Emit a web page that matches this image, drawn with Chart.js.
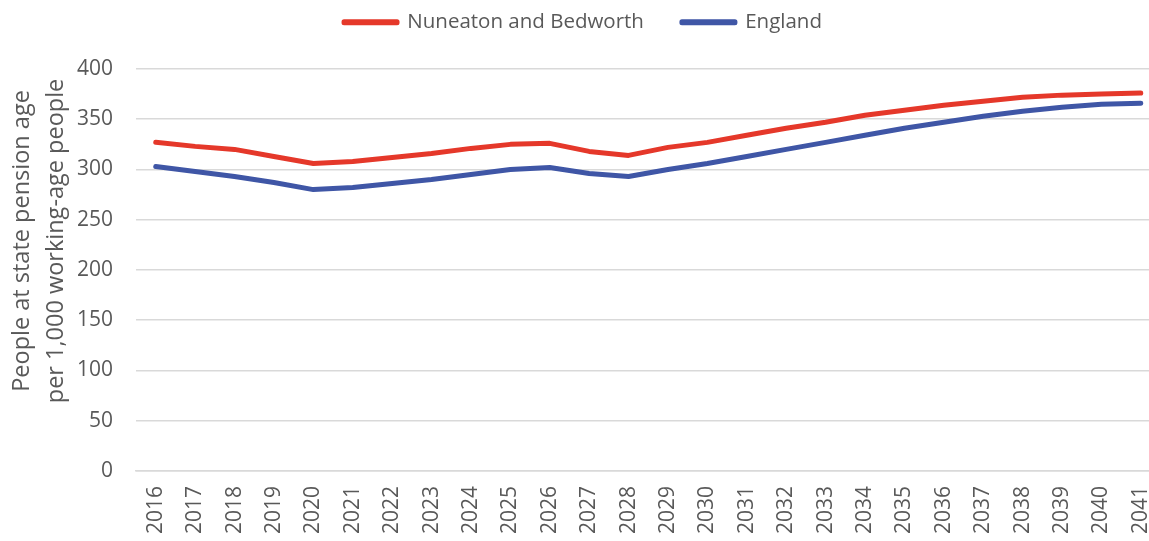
<!DOCTYPE html>
<html>
<head>
<meta charset="utf-8">
<script src="https://cdn.jsdelivr.net/npm/chart.js@4.4.1/dist/chart.umd.min.js"></script>
<style>
  html, body { margin: 0; padding: 0; background: #fff; overflow: hidden; }
  #wrap { width: 1149px; height: 541px; overflow: hidden; }
</style>
</head>
<body>
<div id="wrap"><canvas id="ratioChart" width="1181" height="549"></canvas></div>
<script>
/* ---------- data ---------- */
const years = ["2016","2017","2018","2019","2020","2021","2022","2023","2024","2025","2026","2027","2028",
               "2029","2030","2031","2032","2033","2034","2035","2036","2037","2038","2039","2040","2041"];
const nuneaton = [327, 323, 320, 313, 306, 308, 312, 316, 321, 325, 326, 318, 314,
                  322, 327, 334, 341, 347, 354, 359, 364, 368, 372, 374, 375, 376];
const england  = [303, 298, 293, 287, 280, 282, 286, 290, 295, 300, 302, 296, 293,
                  300, 306, 313, 320, 327, 334, 341, 347, 353, 358, 362, 365, 366];
const yTitle = ["People at state pension age", "per 1,000 working-age people"];

const FONT = "'Open Sans', 'Liberation Sans', sans-serif";
const TEXT = "#595959";
const GRID = "#d9d9d9";

/* legend sits in a tall band; keep plot top clear and pull the row up */
const legendBand = {
  id: "legendBand",
  beforeInit(chart) {
    const fit = chart.legend.fit;
    chart.legend.fit = function () {
      fit.call(this);
      this.height = 69;
    };
  },
  beforeDraw(chart) {
    const lg = chart.legend;
    const dx = 583 - (lg.left + lg.right) / 2;
    lg.left += dx;
    lg.right += dx;
    lg.top -= 26;
  }
};

/* y axis title, two rotated lines left of the ticks */
const axisTitle = {
  id: "axisTitle",
  afterDraw(chart) {
    const { ctx, chartArea } = chart;
    const cy = (chartArea.top + chartArea.bottom) / 2 - 29;
    ctx.save();
    ctx.font = "23.5px " + FONT;
    ctx.fillStyle = TEXT;
    ctx.textAlign = "center";
    ctx.textBaseline = "middle";
    [22, 56].forEach((x, i) => {
      ctx.save();
      ctx.translate(x, cy);
      ctx.rotate(-Math.PI / 2);
      ctx.fillText(yTitle[i], 0, 0);
      ctx.restore();
    });
    ctx.restore();
  }
};

const lineStyle = color => ({
  borderColor: color,
  backgroundColor: color,
  borderWidth: 5,
  borderCapStyle: "round",
  borderJoinStyle: "round",
  pointRadius: 0,
  pointHoverRadius: 0,
  tension: 0,
  fill: false
});

new Chart(document.getElementById("ratioChart"), {
  type: "line",
  data: {
    labels: years,
    datasets: [
      { label: "Nuneaton and Bedworth", data: nuneaton, ...lineStyle("#e5382a") },
      { label: "England", data: england, ...lineStyle("#3f56a6") }
    ]
  },
  options: {
    responsive: false,
    animation: false,
    layout: { padding: { left: 54, right: 1, top: 0, bottom: 0 } },
    plugins: {
      legend: {
        position: "top",
        labels: {
          boxWidth: 53,
          boxHeight: 1,
          padding: 38,
          color: TEXT,
          font: { family: FONT, size: 20.5 }
        }
      },
      tooltip: { enabled: false }
    },
    scales: {
      x: {
        offset: true,
        grid: { display: false, drawTicks: false },
        border: { color: GRID, width: 1.5 },
        ticks: {
          color: TEXT,
          font: { family: FONT, size: 21 },
          minRotation: 90,
          maxRotation: 90,
          padding: 15,
          autoSkip: false
        }
      },
      y: {
        min: 0,
        max: 400,
        grid: { color: GRID, lineWidth: 1.5, drawTicks: false },
        border: { display: false },
        ticks: {
          stepSize: 50,
          color: TEXT,
          font: { family: FONT, size: 21 },
          padding: 23
        }
      }
    }
  },
  plugins: [legendBand, axisTitle]
});
</script>
</body>
</html>
